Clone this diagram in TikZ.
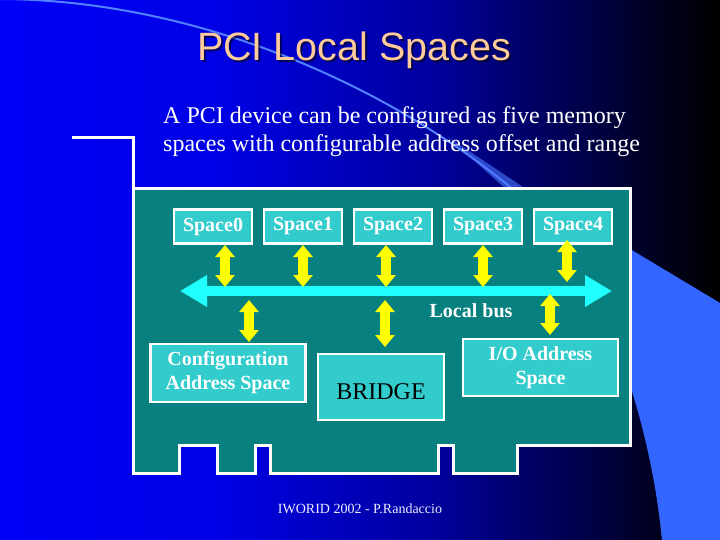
\documentclass[tikz,border=0pt]{standalone}
\usepackage{fontspec}
\setmainfont{Liberation Serif}
\newfontfamily\arialf{Liberation Sans}
\usetikzlibrary{arrows.meta}
\definecolor{bgA}{rgb}{0,0,0.97}
\definecolor{bgB}{rgb}{0,0,0.90}
\definecolor{bgC}{rgb}{0,0,0.62}
\definecolor{bgD}{rgb}{0,0,0.30}
\definecolor{bgE}{rgb}{0,0,0.08}
\definecolor{cardc}{HTML}{08807F}
\definecolor{boxc}{HTML}{33CCCC}
\definecolor{yelc}{HTML}{FFFF00}
\definecolor{busc}{HTML}{22FFFF}
\definecolor{titlec}{HTML}{FFCC99}
\definecolor{swc}{HTML}{5282FF}
\definecolor{wedgec}{HTML}{4A78FF}
\definecolor{blobc}{HTML}{3366FF}
\definecolor{footc}{HTML}{EEEEFF}
\pgfdeclarehorizontalshading{bgsh}{100bp}{color(0bp)=(bgA); color(25bp)=(bgA); color(40bp)=(bgB); color(55bp)=(bgC); color(65bp)=(bgD); color(72bp)=(bgE); color(75bp)=(black); color(100bp)=(black)}
\begin{document}
\begin{tikzpicture}[x=1pt,y=-1pt,
  cardline/.style={draw=white,line width=3pt},
  bx/.style={draw=white,line width=2.5pt,fill=boxc,inner sep=0pt,text=white,align=center,font=\fontsize{20}{24}\selectfont\bfseries},
  yarr/.style={draw=yelc,line width=10pt,arrows={Triangle[width=19pt,length=12pt]-Triangle[width=19pt,length=12pt]}},
  busarr/.style={draw=busc,line width=10pt,arrows={Triangle[width=30pt,length=27pt]-Triangle[width=30pt,length=27pt]}},
  ttl/.style={anchor=base,font=\arialf\fontsize{39.5}{47}\selectfont,inner sep=0pt},
  subt/.style={anchor=base west,font=\fontsize{24}{28}\selectfont,text=white,inner sep=0pt}]
\useasboundingbox (0,0) rectangle (720,540);
\shade[shading=bgsh] (0,0) rectangle (720,540);
% swoosh
\draw[swc,line width=2pt] (0,-1) .. controls (200,0) and (395,88) .. (522,197);
\fill[wedgec,opacity=0.6] (448,137) -- (529,191) -- (508,191) -- cycle;
% right blob
\fill[blobc] (662,540) .. controls (655,470) and (640,410) .. (615,340) -- (600,231) -- (720,303) -- (720,540) -- cycle;
% title
\node[ttl,text=black,opacity=0.55] (tshadow) at (356,63) {PCI Local Spaces};
\node[ttl,text=titlec] (title) at (354,61) {PCI Local Spaces};
\node[subt] (sub1) at (163,124) {A PCI device can be configured as five memory};
\node[subt] (sub2) at (163,152) {spaces with configurable address offset and range};
% card
\fill[cardc] (133,189) -- (630,189) -- (630,445) -- (517,445) -- (517,473) -- (453,473) -- (453,445) -- (438,445) -- (438,473) -- (270,473) -- (270,445) -- (255,445) -- (255,473) -- (217,473) -- (217,445) -- (179,445) -- (179,473) -- (133,473) -- cycle;
\draw[cardline] (72,138) -- (133,138) -- (133,473) -- (179,473) -- (179,445) -- (217,445) -- (217,473) -- (255,473) -- (255,445) -- (270,445) -- (270,473) -- (438,473) -- (438,445) -- (453,445) -- (453,473) -- (517,473) -- (517,445) -- (630,445) -- (630,189) -- (133,189);
% space boxes
\node[bx,minimum width=78pt,minimum height=34pt] (s0) at (213,226.5) {Space0};
\node[bx,minimum width=78pt,minimum height=34pt] (s1) at (303,226.5) {Space1};
\node[bx,minimum width=78pt,minimum height=34pt] (s2) at (393,226.5) {Space2};
\node[bx,minimum width=78pt,minimum height=34pt] (s3) at (483,226.5) {Space3};
\node[bx,minimum width=78pt,minimum height=34pt] (s4) at (573,226.5) {Space4};
% lower boxes
\node[bx,minimum width=155pt,minimum height=58pt] (cfg) at (228,373) {Configuration\\Address Space};
\node[bx,text=black,font=\fontsize{24}{28}\selectfont,minimum width=126pt,minimum height=66pt,text height=26pt,text depth=2pt] (bridge) at (381,387) {BRIDGE};
\node[bx,minimum width=155pt,minimum height=57pt] (io) at (540.5,367.5) {I/O Address\\Space};
% bus
\coordinate (busL) at (180,291);
\coordinate (busR) at (612,291);
\draw[busarr] (busL) -- (busR);
\node[anchor=base,text=white,inner sep=0pt,font=\fontsize{20}{24}\selectfont\bfseries] (lbus) at (471,317) {Local bus};
% yellow connectors
\coordinate (t0) at (225,245); \coordinate (b0) at (225,287);
\coordinate (t1) at (303,245); \coordinate (b1) at (303,287);
\coordinate (t2) at (386,245); \coordinate (b2) at (386,287);
\coordinate (t3) at (483,245); \coordinate (b3) at (483,287);
\coordinate (t4) at (567,240); \coordinate (b4) at (567,282);
\coordinate (tc) at (249,300); \coordinate (bc) at (249,342);
\coordinate (tb) at (385,300); \coordinate (bb) at (385,347);
\coordinate (ti) at (550,294); \coordinate (bi) at (550,335);
\draw[yarr] (t0) -- (b0);
\draw[yarr] (t1) -- (b1);
\draw[yarr] (t2) -- (b2);
\draw[yarr] (t3) -- (b3);
\draw[yarr] (t4) -- (b4);
\draw[yarr] (tc) -- (bc);
\draw[yarr] (tb) -- (bb);
\draw[yarr] (ti) -- (bi);
% footer
\node[anchor=base,text=footc,inner sep=0pt,font=\fontsize{14}{17}\selectfont] (foot) at (360,513) {IWORID 2002 - P.Randaccio};
\end{tikzpicture}
\end{document}
